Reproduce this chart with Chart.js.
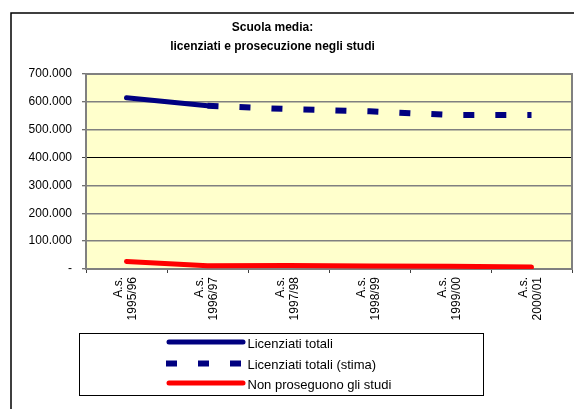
<!DOCTYPE html>
<html>
<head>
<meta charset="utf-8">
<script src="https://cdn.jsdelivr.net/npm/chart.js@4/dist/chart.umd.min.js"></script>
<style>
  html, body { margin: 0; padding: 0; background: #ffffff; }
  #c { display: block; }
</style>
</head>
<body>
<canvas id="c" width="574" height="409"></canvas>
<script>
// ---- data ----
const titleLines = ['Scuola media:', 'licenziati e prosecuzione negli studi'];
const categories = ['A.s. 1995/96', 'A.s. 1996/97', 'A.s. 1997/98', 'A.s. 1998/99', 'A.s. 1999/00', 'A.s. 2000/01'];
const seriesNames = ['Licenziati totali', 'Licenziati totali (stima)', 'Non proseguono gli studi'];
const licenziatiTotali = [615000, 586000, null, null, null, null];
const licenziatiStima = [null, 586000, 574000, 566000, 553000, 553000];
const nonProseguono = [27000, 12000, 13000, 11000, 10000, 7000];
const yTickLabels = ['-', '100.000', '200.000', '300.000', '400.000', '500.000', '600.000', '700.000'];

const FONT = "'Liberation Sans', Arial, Helvetica, sans-serif";

const decorPlugin = {
  id: 'decor',
  beforeDraw(chart) {
    const ctx = chart.ctx;
    const a = chart.chartArea;
    ctx.save();
    ctx.fillStyle = '#ffffff';
    ctx.fillRect(0, 0, chart.width, chart.height);
    // outer frame
    ctx.strokeStyle = '#000000';
    ctx.lineWidth = 1.5;
    ctx.beginPath();
    ctx.moveTo(11, chart.height + 2);
    ctx.lineTo(11, 13);
    ctx.lineTo(chart.width + 2, 13);
    ctx.stroke();
    // plot background
    ctx.fillStyle = '#FFFFCC';
    ctx.fillRect(a.left, a.top, a.right - a.left, a.bottom - a.top);
    ctx.restore();
  },
  beforeDatasetsDraw(chart) {
    const ctx = chart.ctx;
    const a = chart.chartArea;
    ctx.save();
    ctx.strokeStyle = '#808080';
    ctx.lineWidth = 2;
    ctx.beginPath();
    ctx.moveTo(a.left, a.top);
    ctx.lineTo(a.right, a.top);
    ctx.lineTo(a.right, a.bottom);
    ctx.stroke();
    ctx.restore();
  },
  afterDraw(chart) {
    const ctx = chart.ctx;
    ctx.save();
    // title
    ctx.fillStyle = '#000000';
    ctx.font = 'bold 12px ' + FONT;
    ctx.textAlign = 'center';
    ctx.textBaseline = 'middle';
    ctx.fillText(titleLines[0], 272.5, 28);
    ctx.fillText(titleLines[1], 272.5, 47);
    // legend box
    ctx.strokeStyle = '#000000';
    ctx.lineWidth = 1;
    ctx.strokeRect(79.5, 333.5, 404, 62);
    const rows = [342, 363.5, 383];
    ctx.font = '13px ' + FONT;
    ctx.textAlign = 'left';
    chart.data.datasets.forEach((ds, i) => {
      const y = rows[i];
      ctx.save();
      ctx.strokeStyle = ds.borderColor;
      ctx.lineWidth = ds.borderWidth;
      ctx.setLineDash(ds.borderDash || []);
      ctx.lineCap = ds.borderDash ? 'butt' : 'round';
      ctx.beginPath();
      if (ds.borderDash) {
        ctx.moveTo(166, y);
        ctx.lineTo(242, y);
      } else {
        ctx.moveTo(169, y);
        ctx.lineTo(243, y);
      }
      ctx.stroke();
      ctx.restore();
      ctx.fillStyle = '#000000';
      ctx.fillText(ds.label, 247.5, y + 2);
    });
    ctx.restore();
  }
};

new Chart(document.getElementById('c'), {
  type: 'line',
  data: {
    labels: categories,
    datasets: [
      {
        label: seriesNames[0],
        data: licenziatiTotali,
        borderColor: '#000080',
        borderWidth: 5,
        borderCapStyle: 'round',
        pointRadius: 0,
        tension: 0
      },
      {
        label: seriesNames[1],
        data: licenziatiStima,
        borderColor: '#000080',
        borderWidth: 6,
        borderDash: [11, 21],
        borderCapStyle: 'butt',
        pointRadius: 0,
        tension: 0
      },
      {
        label: seriesNames[2],
        data: nonProseguono,
        borderColor: '#FF0000',
        borderWidth: 5,
        borderCapStyle: 'round',
        pointRadius: 0,
        tension: 0
      }
    ]
  },
  options: {
    responsive: false,
    animation: false,
    devicePixelRatio: 1,
    layout: { padding: { left: 0, right: 2, top: 74, bottom: 0 } },
    plugins: {
      legend: { display: false },
      title: { display: false },
      tooltip: { enabled: false }
    },
    elements: { line: { fill: false } },
    scales: {
      x: {
        type: 'category',
        offset: true,
        grid: {
          offset: true,
          drawOnChartArea: false,
          drawTicks: true,
          tickLength: 4,
          tickColor: '#404040',
          tickWidth: 1
        },
        border: { color: '#808080', width: 2 },
        ticks: {
          color: '#000000',
          font: { family: FONT, size: 12 },
          minRotation: 90,
          maxRotation: 90,
          autoSkip: false,
          padding: 4,
          labelOffset: -8,
          callback(value, index) {
            return categories[index].split(' ');
          }
        },
        afterFit(scale) { scale.height = 140; }
      },
      y: {
        min: 0,
        max: 700000,
        grid: {
          color(ctx) {
            return ctx.tick && ctx.tick.value === 400000 ? '#000000' : '#808080';
          },
          lineWidth(ctx) {
            return ctx.tick && ctx.tick.value === 400000 ? 1 : 1.5;
          },
          drawTicks: true,
          tickLength: 4,
          tickColor: '#404040',
          tickWidth: 1
        },
        border: { color: '#808080', width: 2 },
        ticks: {
          stepSize: 100000,
          color: '#000000',
          font: { family: FONT, size: 12 },
          padding: 10,
          callback(value, index) {
            return yTickLabels[index];
          }
        },
        afterFit(scale) { scale.width = 86; }
      }
    }
  },
  plugins: [decorPlugin]
});
</script>
</body>
</html>
